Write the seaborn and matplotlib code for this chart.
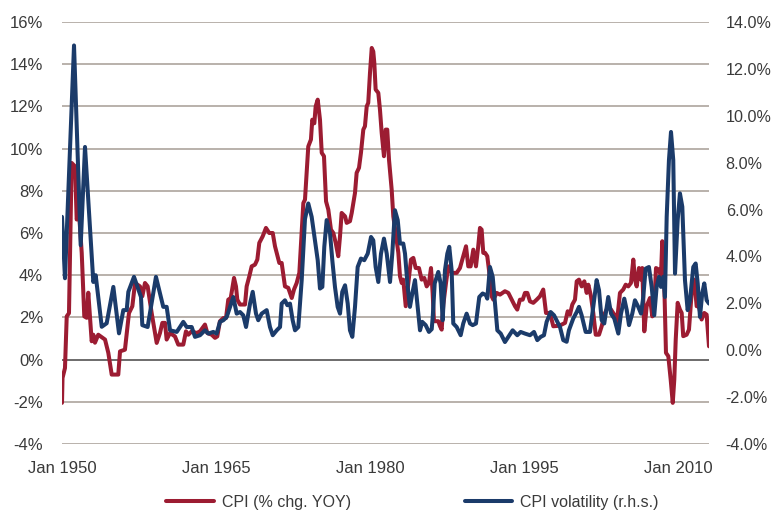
import numpy as np
import pandas as pd
import seaborn as sns
import matplotlib
matplotlib.use("Agg")
import matplotlib.pyplot as plt
from matplotlib.ticker import FuncFormatter

# ---- data ----
cpi_year = [
    1950.00, 1950.05, 1950.29, 1950.46, 1950.68, 1950.94, 1951.27, 1951.43, 1951.66, 1951.92,
    1952.17, 1952.41, 1952.56, 1952.89, 1953.05, 1953.21, 1953.53, 1954.19, 1954.51, 1954.84,
    1955.48, 1955.65, 1956.13, 1956.52, 1956.85, 1957.11, 1957.59, 1957.82, 1958.08, 1958.34,
    1958.73, 1959.22, 1959.54, 1959.77, 1960.03, 1960.19, 1960.52, 1961.00, 1961.32, 1961.81,
    1962.07, 1962.30, 1962.63, 1963.12, 1963.44, 1963.92, 1964.15, 1964.58, 1964.90, 1965.12,
    1965.38, 1965.71, 1965.97, 1966.19, 1966.43, 1966.75, 1966.94, 1967.07, 1967.33, 1967.82,
    1967.98, 1968.24, 1968.47, 1968.79, 1969.02, 1969.21, 1969.54, 1969.86, 1970.18, 1970.52,
    1970.74, 1971.16, 1971.39, 1971.71, 1972.03, 1972.37, 1972.59, 1972.85, 1973.11, 1973.50,
    1973.66, 1973.88, 1973.98, 1974.24, 1974.37, 1974.57, 1974.70, 1974.90, 1975.12, 1975.29,
    1975.51, 1975.71, 1975.93, 1976.19, 1976.42, 1976.65, 1976.90, 1977.07, 1977.23, 1977.56,
    1977.72, 1978.04, 1978.21, 1978.53, 1978.69, 1978.92, 1979.11, 1979.34, 1979.50, 1979.67,
    1979.82, 1979.99, 1980.16, 1980.31, 1980.41, 1980.54, 1980.80, 1980.96, 1981.13, 1981.35,
    1981.52, 1981.67, 1981.84, 1982.10, 1982.26, 1982.49, 1982.75, 1982.91, 1983.08, 1983.23,
    1983.47, 1983.72, 1983.98, 1984.21, 1984.44, 1984.76, 1985.02, 1985.28, 1985.51, 1985.73,
    1985.93, 1986.09, 1986.22, 1986.64, 1986.81, 1986.97, 1987.13, 1987.39, 1987.61, 1987.94,
    1988.43, 1988.75, 1989.07, 1989.34, 1989.56, 1989.79, 1990.05, 1990.31, 1990.53, 1990.70,
    1990.86, 1991.02, 1991.19, 1991.41, 1991.61, 1991.84, 1992.00, 1992.33, 1992.65, 1993.13,
    1993.46, 1993.79, 1994.11, 1994.33, 1994.59, 1994.86, 1995.08, 1995.31, 1995.57, 1995.89,
    1996.22, 1996.54, 1996.86, 1997.13, 1997.51, 1997.84, 1998.32, 1998.66, 1998.98, 1999.24,
    1999.46, 1999.69, 1999.95, 2000.12, 2000.34, 2000.60, 2000.86, 2001.09, 2001.25, 2001.51,
    2001.73, 2001.97, 2002.29, 2002.55, 2002.87, 2003.19, 2003.46, 2003.78, 2004.01, 2004.33,
    2004.65, 2004.89, 2005.14, 2005.40, 2005.63, 2005.79, 2005.96, 2006.18, 2006.38, 2006.50,
    2006.70, 2006.93, 2007.25, 2007.48, 2007.67, 2007.84, 2008.13, 2008.32, 2008.45, 2008.65,
    2008.81, 2009.04, 2009.27, 2009.47, 2009.62, 2009.76, 2009.95, 2010.17, 2010.34, 2010.49,
    2010.82, 2011.05, 2011.31, 2011.56, 2011.80, 2012.02, 2012.28, 2012.54, 2012.77, 2013.00,
]
cpi_val = [
    -2.05, -0.87, -0.40, 2.05, 2.20, 9.32, 9.16, 6.64, 6.95, 5.06,
    2.05, 1.98, 3.17, 0.87, 1.18, 0.80, 1.18, 0.95, 0.32, -0.71,
    -0.71, 0.39, 0.47, 2.20, 2.53, 3.63, 3.47, 3.00, 3.63, 3.47,
    2.21, 0.79, 1.26, 1.74, 1.74, 0.95, 1.26, 1.10, 0.71, 0.71,
    1.34, 1.18, 1.34, 1.26, 1.34, 1.66, 1.26, 1.18, 1.03, 1.10,
    1.82, 1.97, 1.97, 2.84, 2.92, 3.87, 3.47, 2.84, 2.61, 2.61,
    3.47, 3.95, 4.42, 4.50, 4.74, 5.53, 5.84, 6.24, 6.00, 6.00,
    5.37, 4.58, 4.58, 3.47, 3.40, 2.92, 3.32, 3.63, 4.11, 7.42,
    7.58, 9.32, 10.10, 10.43, 11.37, 11.20, 12.00, 12.32, 11.37, 9.80,
    9.64, 7.50, 7.11, 6.16, 6.00, 5.53, 4.90, 5.84, 6.95, 6.79,
    6.48, 6.56, 6.95, 7.90, 8.85, 9.09, 9.80, 10.90, 11.06, 12.00,
    12.17, 13.59, 14.77, 14.60, 14.06, 12.80, 12.64, 11.85, 10.74, 9.64,
    10.90, 10.90, 9.48, 8.06, 6.79, 6.00, 5.06, 3.95, 3.63, 3.79,
    2.53, 3.63, 4.74, 4.82, 4.34, 4.34, 3.79, 3.87, 3.47, 3.63,
    4.34, 3.16, 1.82, 1.82, 1.58, 1.42, 2.61, 3.63, 4.42, 4.11,
    4.11, 4.34, 4.90, 5.37, 4.42, 4.42, 5.21, 4.42, 5.37, 6.24,
    6.16, 5.06, 5.06, 4.90, 4.11, 3.00, 2.84, 3.16, 3.08, 3.24,
    3.16, 2.84, 2.53, 2.37, 2.84, 2.84, 3.16, 3.16, 2.76, 2.69,
    2.84, 3.00, 3.32, 2.21, 2.21, 1.58, 1.60, 1.66, 1.74, 2.29,
    2.13, 2.61, 2.84, 3.71, 3.79, 3.47, 3.71, 3.16, 3.55, 3.00,
    2.21, 1.18, 1.18, 1.58, 2.21, 2.53, 2.37, 2.13, 1.66, 3.16,
    3.32, 3.55, 3.47, 3.63, 4.74, 3.79, 3.47, 4.34, 3.79, 4.34,
    1.34, 2.53, 2.92, 2.05, 2.53, 4.34, 4.26, 3.95, 5.61, 3.47,
    0.32, 0.16, -0.95, -2.05, -0.95, 0.95, 2.69, 2.37, 2.21, 1.11,
    1.18, 1.42, 3.16, 3.79, 2.53, 2.53, 1.90, 2.21, 2.13, 0.63,
]

vol_year = [
    1950.00, 1950.29, 1951.17, 1951.82, 1952.24, 1953.05, 1953.28, 1953.87, 1954.35, 1955.00,
    1955.55, 1955.97, 1956.30, 1956.46, 1957.01, 1957.69, 1957.82, 1958.34, 1959.15, 1959.86,
    1960.19, 1960.52, 1961.17, 1961.49, 1961.81, 1962.14, 1962.63, 1962.95, 1963.44, 1963.92,
    1964.25, 1964.73, 1965.06, 1965.38, 1965.71, 1966.04, 1966.36, 1966.68, 1967.01, 1967.33,
    1967.65, 1967.92, 1968.31, 1968.57, 1968.89, 1969.11, 1969.44, 1969.93, 1970.25, 1970.52,
    1970.91, 1971.23, 1971.39, 1971.71, 1971.94, 1972.20, 1972.46, 1972.69, 1973.01, 1973.34,
    1973.66, 1973.98, 1974.31, 1974.63, 1974.90, 1975.12, 1975.35, 1975.54, 1975.77, 1976.10,
    1976.32, 1976.58, 1976.84, 1977.07, 1977.29, 1977.56, 1977.82, 1978.04, 1978.27, 1978.53,
    1978.79, 1979.11, 1979.43, 1979.77, 1980.09, 1980.31, 1980.54, 1980.80, 1981.06, 1981.35,
    1981.62, 1981.94, 1982.16, 1982.42, 1982.69, 1982.91, 1983.23, 1983.40, 1983.66, 1983.88,
    1984.11, 1984.37, 1984.63, 1984.86, 1985.08, 1985.41, 1985.73, 1986.00, 1986.10, 1986.29,
    1986.64, 1986.87, 1987.07, 1987.29, 1987.52, 1987.71, 1987.94, 1988.10, 1988.43, 1988.82,
    1989.07, 1989.40, 1989.73, 1989.99, 1990.31, 1990.63, 1990.96, 1991.28, 1991.41, 1991.67,
    1991.94, 1992.16, 1992.39, 1992.72, 1993.13, 1993.46, 1993.88, 1994.33, 1994.66, 1995.08,
    1995.57, 1995.96, 1996.28, 1996.61, 1996.93, 1997.19, 1997.58, 1997.91, 1998.49, 1998.81,
    1999.14, 1999.36, 1999.78, 2000.12, 2000.34, 2000.60, 2000.99, 2001.41, 2001.73, 2002.06,
    2002.29, 2002.55, 2002.80, 2003.19, 2003.46, 2003.78, 2004.17, 2004.43, 2004.75, 2004.99,
    2005.21, 2005.53, 2005.79, 2006.11, 2006.38, 2006.60, 2006.83, 2007.15, 2007.42, 2007.67,
    2007.90, 2008.13, 2008.32, 2008.55, 2008.71, 2008.88, 2009.10, 2009.30, 2009.52, 2009.69,
    2009.95, 2010.17, 2010.40, 2010.66, 2010.92, 2011.15, 2011.47, 2011.70, 2011.90, 2012.12,
    2012.34, 2012.54, 2012.77, 2013.00,
]
vol_val = [
    5.69, 3.07, 13.00, 4.48, 8.67, 2.91, 3.20, 1.00, 1.15, 2.70,
    0.72, 1.71, 1.71, 2.49, 3.13, 2.27, 1.07, 0.99, 3.13, 1.85,
    1.85, 0.85, 0.78, 0.99, 1.21, 0.99, 0.99, 0.57, 0.64, 0.85,
    0.71, 0.78, 0.71, 1.21, 1.28, 1.42, 1.85, 2.27, 1.56, 1.63,
    1.49, 0.99, 1.99, 2.49, 1.56, 1.28, 1.56, 1.71, 0.99, 0.64,
    0.85, 0.99, 1.99, 2.13, 1.92, 1.99, 1.28, 0.85, 0.99, 2.99,
    5.60, 6.26, 5.69, 4.69, 3.84, 2.63, 2.70, 4.41, 5.55, 4.98,
    3.84, 2.70, 1.85, 1.56, 2.49, 2.77, 1.99, 0.85, 0.57, 1.85,
    3.55, 3.91, 3.84, 4.12, 4.83, 4.69, 3.55, 2.91, 4.12, 4.76,
    4.12, 2.91, 4.12, 5.97, 5.55, 4.55, 4.55, 4.12, 2.70, 1.85,
    2.42, 2.99, 1.85, 0.85, 1.21, 1.07, 0.78, 0.90, 1.42, 2.85,
    3.34, 2.85, 1.28, 3.41, 4.12, 4.41, 3.41, 1.14, 0.99, 0.64,
    1.14, 1.56, 1.14, 1.07, 1.14, 2.27, 2.42, 2.35, 2.20, 3.55,
    3.13, 1.99, 0.85, 0.71, 0.35, 0.57, 0.85, 0.64, 0.78, 0.71,
    0.64, 0.78, 0.43, 0.57, 0.64, 1.21, 1.63, 1.49, 0.99, 0.43,
    0.36, 0.85, 1.35, 1.63, 1.85, 1.49, 0.78, 0.78, 1.85, 2.99,
    2.56, 1.28, 1.14, 2.27, 1.56, 1.35, 0.71, 1.56, 2.20, 1.71,
    1.07, 1.56, 2.13, 1.85, 1.56, 2.27, 3.48, 3.55, 2.70, 1.49,
    2.70, 3.13, 2.70, 3.13, 2.27, 5.69, 8.11, 9.31, 8.11, 3.27,
    5.55, 6.69, 6.12, 2.99, 1.71, 2.13, 3.55, 3.70, 2.85, 1.42,
    2.42, 2.85, 2.13, 1.99,
]

left_ticks = [-4, -2, 0, 2, 4, 6, 8, 10, 12, 14, 16]
right_ticks = [-4, -2, 0, 2, 4, 6, 8, 10, 12, 14]
x_ticks = [1950, 1965, 1980, 1995, 2010]
x_ticklabels = ["Jan 1950", "Jan 1965", "Jan 1980", "Jan 1995", "Jan 2010"]

RED = "#9c1c32"
BLUE = "#1b3b6a"
GRID = "#a69d94"
TXT = "#3a3a3a"

cpi_df = pd.DataFrame({"year": cpi_year, "val": cpi_val})
vol_df = pd.DataFrame({"year": vol_year, "val": vol_val})

sns.set_style("white")
plt.rcParams["font.family"] = ["Liberation Sans", "DejaVu Sans"]

fig = plt.figure(figsize=(7.74, 5.13), dpi=100)
ax = fig.add_axes([62 / 774, 1 - 444 / 513, (709 - 62) / 774, (444 - 22) / 513])
ax2 = ax.twinx()

sns.lineplot(data=cpi_df, x="year", y="val", ax=ax, color=RED, lw=2.9,
             label="CPI (% chg. YOY)", legend=False, zorder=3)
sns.lineplot(data=vol_df, x="year", y="val", ax=ax2, color=BLUE, lw=2.9,
             label="CPI volatility (r.h.s.)", legend=False, zorder=3)

ax.set_xlim(1950, 2013)
ax.set_ylim(-4, 16)
ax2.set_ylim(-4, 14)

ax.set_yticks(left_ticks)
ax2.set_yticks(right_ticks)
ax.yaxis.set_major_formatter(FuncFormatter(lambda v, p: f"{v:.0f}%"))
ax2.yaxis.set_major_formatter(FuncFormatter(lambda v, p: f"{v:.1f}%"))
ax.set_xticks(x_ticks)
ax.set_xticklabels(x_ticklabels)

for a in (ax, ax2):
    for s in a.spines.values():
        s.set_visible(False)
    a.set_xlabel("")
    a.set_ylabel("")
    a.tick_params(length=0, labelsize=12, labelcolor=TXT)
ax.tick_params(axis="y", pad=13.5)
ax2.tick_params(axis="y", pad=12, labelsize=11.6)
ax.tick_params(axis="x", pad=12)

ax.yaxis.grid(True, color=GRID, lw=1.1)
ax.xaxis.grid(False)
ax2.grid(False)
ax.axhline(0, color="#6e6e6e", lw=1.4, zorder=2)
ax.set_axisbelow(True)

h1, l1 = ax.get_legend_handles_labels()
h2, l2 = ax2.get_legend_handles_labels()
fig.legend(h1 + h2, l1 + l2, loc="center", bbox_to_anchor=(0.533, 0.021), ncol=2,
           frameon=False, fontsize=11.5, handlelength=3.0, columnspacing=7.1,
           handletextpad=0.5, labelcolor=TXT)

fig.savefig("out.png", dpi=100)
